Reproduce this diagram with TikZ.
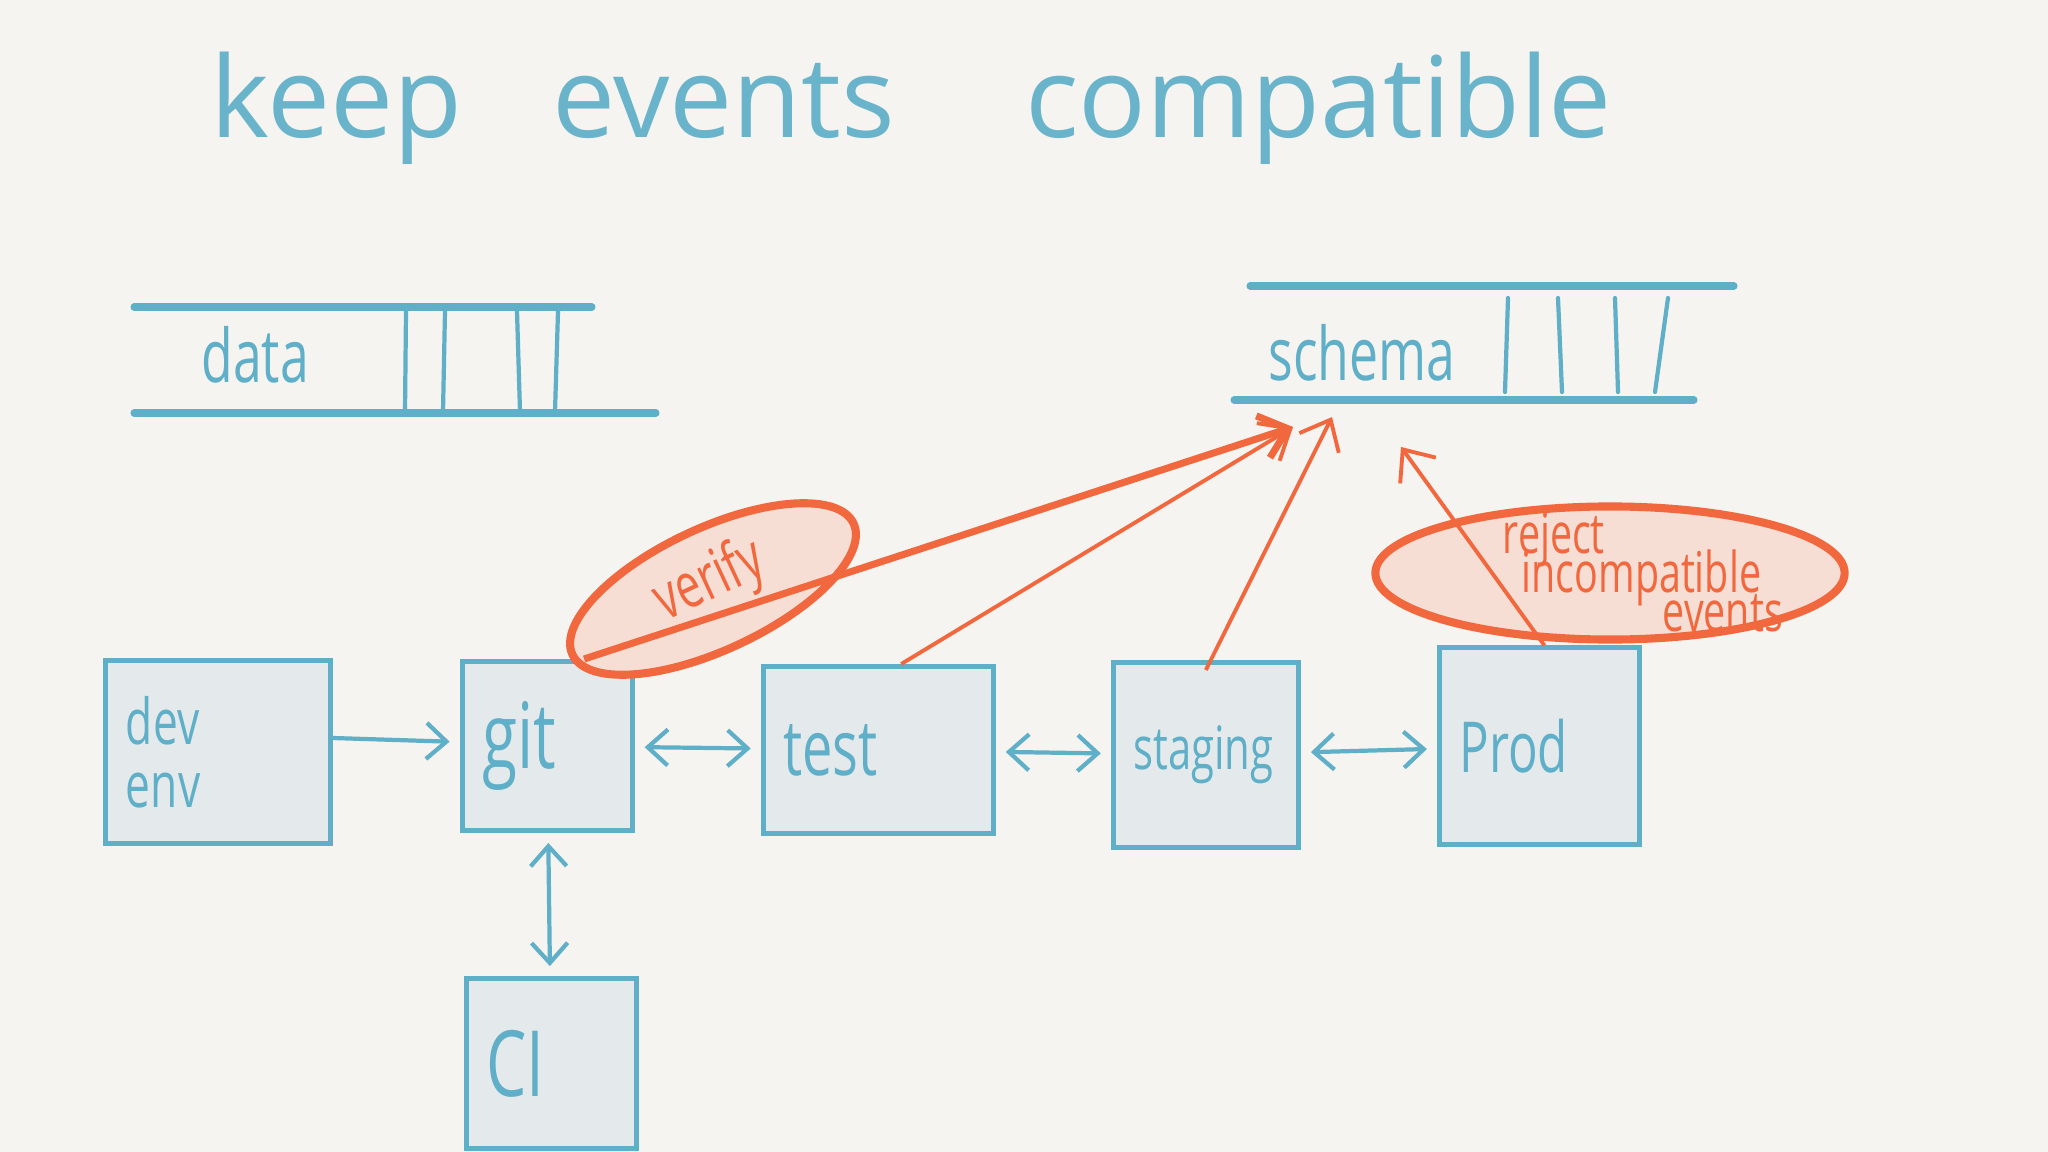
\documentclass[tikz,border=0pt]{standalone}
\usepackage{fontspec}
\setmainfont{Open Sans}
\newfontfamily\hand{Open Sans}[FakeStretch=0.7]
\usepackage{xcolor}
\usetikzlibrary{arrows.meta,positioning,shapes.geometric}
\definecolor{sky}{HTML}{5FAFC8}
\definecolor{inkt}{HTML}{6AB4CB}
\definecolor{boxfill}{HTML}{E4EAEB}
\definecolor{flame}{HTML}{F2683E}
\definecolor{blush}{HTML}{F7DED4}
\definecolor{paper}{HTML}{F5F4F0}
\newcommand{\sz}[1]{\hand\fontsize{#1}{#1}\selectfont}
\newcommand{\tight}{\lineskiplimit=-20pt\relax}

\begin{document}
\begin{tikzpicture}[
    x=0.01cm, y=-0.01cm, font=\sz{20},
    >={Straight Barb[length=2mm, width=3.6mm]}, node distance=13mm,
    box/.style={draw=sky, line width=1.4pt, fill=boxfill, text=sky, align=left, inner xsep=2mm, text width=#1},
    flow/.style={<->, draw=sky, line width=1.2pt, shorten <=1mm, shorten >=1mm},
    lane/.style={text=sky, font=\sz{21}},
    queue/.style={draw=sky, line width=2pt, line cap=round},
    slot/.style={draw=sky, line width=1.2pt, line cap=round},
    blob/.style={ellipse, draw=flame, line width=2.3pt, fill=blush, inner sep=0pt, text=flame},
    hit/.style={-{Straight Barb[length=2.6mm, width=4.4mm]}, draw=flame, line width=1.1pt}]
    \useasboundingbox[fill=paper] (0,0) rectangle (2048,1152);
    \node[anchor=base, text=inkt, font=\fontsize{32}{36}\selectfont] (title) at (911,138) {keep\hspace{9mm}events\hspace{13mm}compatible};
    % queues
    \node[lane, anchor=west] (data) at (189,355) {data};
    \draw[queue] (134,307) -- (592,307);
    \draw[queue] (134,413) -- (656,413);
    \foreach \a/\b in {406/405, 445/443, 517/520, 558/555} \draw[slot] (\a,311) -- (\b,412);
    \node[lane, anchor=west] (schema) at (1256,353) {schema};
    \draw[queue] (1250,286) -- (1734,286);
    \draw[queue] (1234,400) -- (1694,400);
    \foreach \a/\b in {1508/1505, 1558/1562, 1615/1618, 1668/1655} \draw[slot] (\a,298) -- (\b,392);
    % pipeline
    \node[box=18.4mm, minimum height=18.3mm, font=\sz{18}] (dev) at (218,752) {dev\\env};
    \node[box=13mm, minimum height=16.9mm, right=12.7mm of dev, yshift=0.6mm, font=\sz{26}] (git) {git};
    \node[box=19mm, minimum height=16.7mm, right=12.6mm of git, yshift=-0.4mm, font=\sz{22}] (test) {test};
    \node[box=14.5mm, minimum height=18.5mm, right=11.5mm of test, yshift=-0.5mm, font=\sz{17}] (stg) {staging};
    \node[box=16mm, minimum height=19.6mm, right=13.6mm of stg, yshift=0.9mm] (prod) {Prod};
    \node[box=13mm, minimum height=17mm, below=14.3mm of git, xshift=0.4mm, font=\sz{26}] (ci) {CI};
    \draw[flow, ->, shorten <=0pt] ([yshift=1.4mm]dev.east) -- ([yshift=0.4mm]git.west);
    \foreach \a/\b in {git/test, test/stg, stg/prod, git/ci} \draw[flow] (\a) -- (\b);
    % checks
    \node[blob, minimum width=31mm, minimum height=12.2mm, rotate=25, font=\sz{18}] (verify) at (713,589) {\raisebox{3mm}{verify}\hspace{2mm}};
    \node[blob, minimum width=46.9mm, minimum height=13.3mm] (reject) at (1610,573) {};
    \node[anchor=west, text=flame, align=left, inner sep=0pt, font={\hand\fontsize{16}{11}\selectfont\tight}] (rejtxt) at (1502,572) {reject\\\hspace*{1.9mm}incompatible\\\hspace*{16mm}events};
    \coordinate (s1) at (1293,427);
    \coordinate (s2) at (1332,417);
    \coordinate (s3) at (1401,447);
    \draw[hit, line width=2pt] ([xshift=3.7mm]git.north) -- (s1);
    \draw[hit] ([xshift=2.3mm]test.north) -- (s1);
    \draw[hit] ([yshift=-1mm]stg.north) -- (s2);
    \draw[hit] ([xshift=0.5mm]prod.north) -- (s3);
\end{tikzpicture}
\end{document}
